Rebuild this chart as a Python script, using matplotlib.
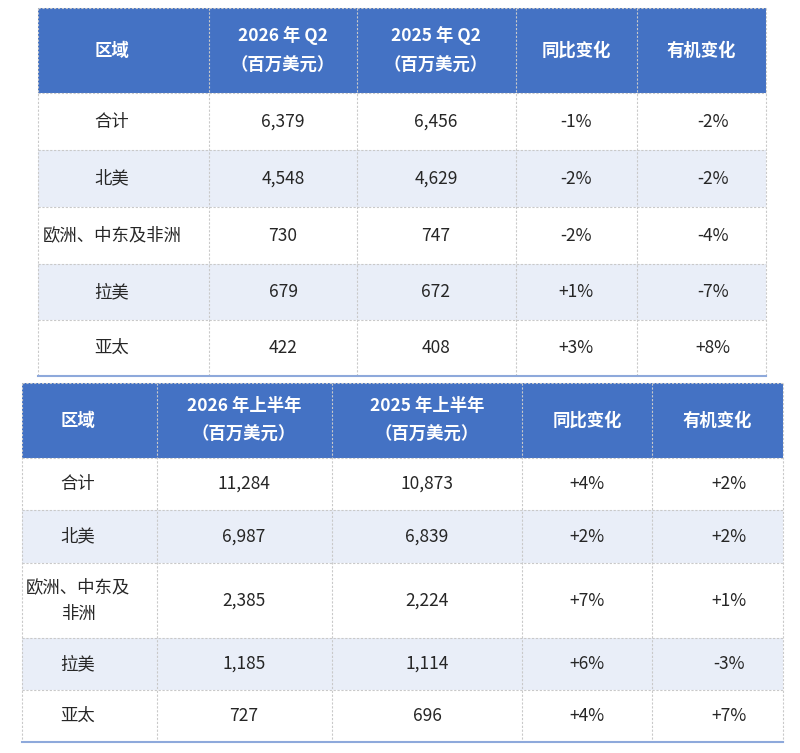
import matplotlib.pyplot as plt
from matplotlib.patches import Rectangle

plt.rcParams['font.family'] = ['Noto Sans CJK SC', 'DejaVu Sans']

# data
regions = ["合计", "北美", "欧洲、中东及非洲", "拉美", "亚太"]
regions_h1 = ["合计", "北美", "欧洲、中东及\n非洲", "拉美", "亚太"]

q2_headers = ["区域", "2026 年 Q2\n（百万美元）", "2025 年 Q2\n（百万美元）", "同比变化", "有机变化"]
q2_2026 = ["6,379", "4,548", "730", "679", "422"]
q2_2025 = ["6,456", "4,629", "747", "672", "408"]
q2_yoy = ["-1%", "-2%", "-2%", "+1%", "+3%"]
q2_organic = ["-2%", "-2%", "-4%", "-7%", "+8%"]

h1_headers = ["区域", "2026 年上半年\n（百万美元）", "2025 年上半年\n（百万美元）", "同比变化", "有机变化"]
h1_2026 = ["11,284", "6,987", "2,385", "1,185", "727"]
h1_2025 = ["10,873", "6,839", "2,224", "1,114", "696"]
h1_yoy = ["+4%", "+2%", "+7%", "+6%", "+4%"]
h1_organic = ["+2%", "+2%", "+1%", "-3%", "+7%"]

HEADER_BLUE = "#4472C4"
STRIPE = "#E9EEF8"
GRID = "#C9C9C9"
EDGE = "#8EA9DB"
TEXT = "#262626"


def draw_table(ax, headers, columns, col_x, row_y, head_x, text_x):
    # header band
    ax.add_patch(Rectangle((col_x[0], row_y[0]), col_x[-1] - col_x[0], row_y[1] - row_y[0],
                           facecolor=HEADER_BLUE, edgecolor="none"))
    n_rows = len(columns[0])
    for r in range(n_rows):
        y0, y1 = row_y[r + 1], row_y[r + 2]
        if r % 2 == 1:
            ax.add_patch(Rectangle((col_x[0], y0), col_x[-1] - col_x[0], y1 - y0,
                                   facecolor=STRIPE, edgecolor="none"))
    # dashed grid
    for x in col_x:
        ax.plot([x, x], [row_y[0], row_y[-1]], color=GRID, lw=0.8, ls=(0, (2, 1.5)))
    for y in row_y[:-1]:
        ax.plot([col_x[0], col_x[-1]], [y, y], color=GRID, lw=0.8, ls=(0, (2, 1.5)))
    ax.plot([col_x[0], col_x[-1]], [row_y[-1], row_y[-1]], color=EDGE, lw=1.5)

    for c, h in enumerate(headers):
        ax.text(head_x[c], (row_y[0] + row_y[1]) / 2, h, color="white", fontsize=12.5,
                fontweight="bold", ha="center", va="center", linespacing=1.8)
    for c, col in enumerate(columns):
        for r, v in enumerate(col):
            ax.text(text_x[c], (row_y[r + 1] + row_y[r + 2]) / 2, v, color=TEXT,
                    fontsize=12.5, ha="center", va="center", linespacing=1.6)


fig = plt.figure(figsize=(8, 7.53), dpi=100)
ax = fig.add_axes([0, 0, 1, 1])
ax.set_xlim(0, 800)
ax.set_ylim(753, 0)
ax.axis("off")

draw_table(ax, q2_headers, [regions, q2_2026, q2_2025, q2_yoy, q2_organic],
           col_x=[38, 209, 357, 516, 637, 766],
           row_y=[8, 93, 150, 207, 264, 320, 376],
           head_x=[112, 283, 436, 576, 701],
           text_x=[112, 283, 436, 576, 713])

draw_table(ax, h1_headers, [regions_h1, h1_2026, h1_2025, h1_yoy, h1_organic],
           col_x=[22, 157, 332, 522, 652, 783],
           row_y=[383, 458, 510, 563, 638, 690, 742],
           head_x=[78, 244, 427, 587, 717],
           text_x=[78, 244, 427, 587, 729])

fig.savefig("out.png", dpi=100, facecolor="white")
